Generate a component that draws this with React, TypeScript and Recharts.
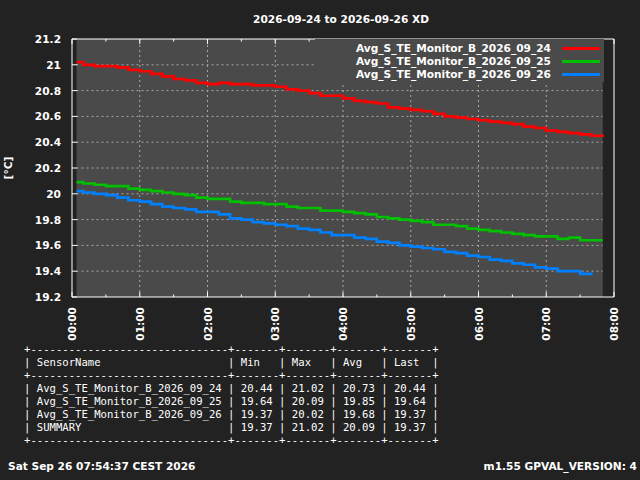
import { LineChart, Line, XAxis, YAxis, ReferenceArea, ReferenceLine, Legend } from 'recharts';

// sample times, minutes after midnight
const minutes = [
  4, 10, 20, 30, 40, 50, 60, 70, 80, 90, 100, 110, 120, 130, 140, 150,
  160, 170, 180, 190, 200, 210, 220, 230, 240, 250, 260, 270, 280, 290, 300, 310,
  320, 330, 340, 350, 360, 370, 380, 390, 400, 410, 420, 430, 440, 450, 460, 470,
];

const day24 = [
  21.02, 21.0, 20.99, 20.99, 20.98, 20.96, 20.95, 20.93, 20.91, 20.89, 20.88, 20.86, 20.85, 20.86, 20.85, 20.85,
  20.84, 20.84, 20.83, 20.81, 20.8, 20.78, 20.76, 20.76, 20.74, 20.72, 20.71, 20.7, 20.67, 20.66, 20.65, 20.64,
  20.62, 20.6, 20.59, 20.58, 20.57, 20.56, 20.55, 20.54, 20.52, 20.51, 20.49, 20.48, 20.47, 20.46, 20.45, 20.44,
];

const day25 = [
  20.09, 20.08, 20.07, 20.06, 20.06, 20.04, 20.03, 20.02, 20.01, 20.0, 19.99, 19.97, 19.96, 19.96, 19.94, 19.93,
  19.93, 19.92, 19.92, 19.9, 19.89, 19.89, 19.87, 19.87, 19.86, 19.85, 19.84, 19.82, 19.81, 19.8, 19.79, 19.78,
  19.76, 19.76, 19.75, 19.73, 19.72, 19.71, 19.7, 19.69, 19.68, 19.67, 19.67, 19.65, 19.66, 19.64, 19.64, 19.64,
];

const day26 = [
  20.02, 20.01, 20.0, 19.99, 19.97, 19.95, 19.94, 19.92, 19.9, 19.89, 19.88, 19.86, 19.86, 19.84, 19.81, 19.8,
  19.78, 19.77, 19.76, 19.75, 19.73, 19.72, 19.7, 19.68, 19.68, 19.66, 19.65, 19.63, 19.62, 19.6, 19.59, 19.58,
  19.57, 19.55, 19.54, 19.52, 19.51, 19.49, 19.48, 19.46, 19.45, 19.43, 19.42, 19.4, 19.4, 19.38, 19.37, null,
];

const seriesNames = ['Avg_S_TE_Monitor_B_2026_09_24', 'Avg_S_TE_Monitor_B_2026_09_25', 'Avg_S_TE_Monitor_B_2026_09_26'];
const seriesKeys = ['d24', 'd25', 'd26'];
const seriesColors = ['#ff0000', '#00c000', '#0080ff'];

const yTicks = [19.2, 19.4, 19.6, 19.8, 20, 20.2, 20.4, 20.6, 20.8, 21, 21.2];
const yGrid = [19.4, 19.6, 19.8, 20, 20.2, 20.4, 20.6, 20.8, 21];
const xGrid = [60, 120, 180, 240, 300, 360, 420];
const xAllTicks = [0, 30, 60, 90, 120, 150, 180, 210, 240, 270, 300, 330, 360, 390, 420, 450, 480];

const tableHeader = ['SensorName', 'Min', 'Max', 'Avg', 'Last'];
const tableRows = [
  ['Avg_S_TE_Monitor_B_2026_09_24', '20.44', '21.02', '20.73', '20.44'],
  ['Avg_S_TE_Monitor_B_2026_09_25', '19.64', '20.09', '19.85', '19.64'],
  ['Avg_S_TE_Monitor_B_2026_09_26', '19.37', '20.02', '19.68', '19.37'],
  ['SUMMARY', '19.37', '21.02', '20.09', '19.37'],
];

const data = minutes.map((m, i) => ({ m, d24: day24[i], d25: day25[i], d26: day26[i] }));

const FONT = '"DejaVu Sans", sans-serif';
const MONO = '"DejaVu Sans Mono", monospace';
const FS = 10.6;
const GRID = '#a8a8a8';

const colWidths = [29, 5, 5, 5, 5];
const border = '+' + colWidths.map(w => '-'.repeat(w + 2)).join('+') + '+';
const row = (cells: string[]) => '| ' + cells.map((c, i) => c.padEnd(colWidths[i])).join(' | ') + ' |';
const tableText = [border, row(tableHeader), border, ...tableRows.map(row), border].join('\n');

const fmtY = (v: number) => String(Number(v.toFixed(1)));
const fmtHour = (m: number) => `${String(m / 60).padStart(2, '0')}:00`;

const LeftTick = (props: any) => {
  const { x, y, payload } = props;
  return (
    <g>
      <line x1={x} x2={x + 5} y1={y} y2={y} stroke="#fff" />
      <text x={x - 11} y={y} textAnchor="end" dominantBaseline="central" fill="#fff"
        fontSize={FS} fontWeight="bold" fontFamily={FONT}>{fmtY(payload.value)}</text>
    </g>
  );
};

const RightTick = (props: any) => {
  const { x, y } = props;
  return <line x1={x - 5} x2={x} y1={y} y2={y} stroke="#fff" />;
};

const BottomTick = (props: any) => {
  const { x, y, payload } = props;
  const major = payload.value % 60 === 0;
  return (
    <g>
      <line x1={x} x2={x} y1={y} y2={y - (major ? 5 : 2.5)} stroke="#fff" />
      {major && (
        <text transform={`translate(${x},${y + 10}) rotate(-90)`} textAnchor="end" dominantBaseline="central"
          fill="#fff" fontSize={FS} fontWeight="bold" fontFamily={FONT}>{fmtHour(payload.value)}</text>
      )}
    </g>
  );
};

const TopTick = (props: any) => {
  const { x, y, payload } = props;
  const major = payload.value % 60 === 0;
  return <line x1={x} x2={x} y1={y} y2={y + (major ? 5 : 2.5)} stroke="#fff" />;
};

const LegendBox = () => (
  <div style={{ width: 289, height: 43, background: '#4a4a4a', paddingTop: 2.5, boxSizing: 'border-box' }}>
    {seriesNames.map((name, i) => (
      <div key={name} style={{ height: 13, display: 'flex', justifyContent: 'flex-end', alignItems: 'center' }}>
        <span style={{ color: '#fff', fontFamily: FONT, fontWeight: 'bold', fontSize: FS, lineHeight: '13px' }}>{name}</span>
        <span style={{ display: 'inline-block', width: 38, height: 3, background: seriesColors[i], marginLeft: 11, marginRight: 4 }} />
      </div>
    ))}
  </div>
);

const textStyle = { position: 'absolute' as const, color: '#fff', fontFamily: FONT, fontWeight: 'bold' as const, fontSize: FS, lineHeight: '13px', whiteSpace: 'nowrap' as const };

export default function App() {
  const first = minutes[0];
  const last = minutes[minutes.length - 1];
  return (
    <div style={{ position: 'absolute', left: 0, top: 0, width: 640, height: 480, background: '#222222', overflow: 'hidden' }}>
      <LineChart width={640} height={480} data={data} margin={{ top: 38, right: 25, bottom: 182, left: 71 }}>
        <XAxis dataKey="m" type="number" domain={[0, 480]} ticks={xAllTicks} height={1} tickSize={0} tickMargin={0}
          tickLine={false} axisLine={{ stroke: '#fff' }} tick={<BottomTick />} interval={0} />
        <XAxis xAxisId="top" orientation="top" dataKey="m" type="number" domain={[0, 480]} ticks={xAllTicks} height={1}
          tickSize={0} tickMargin={0} tickLine={false} axisLine={{ stroke: '#fff' }} tick={<TopTick />} interval={0} />
        <YAxis type="number" domain={[19.2, 21.2]} ticks={yTicks} width={1} tickSize={0} tickMargin={0}
          tickLine={false} axisLine={{ stroke: '#fff' }} tick={<LeftTick />} interval={0} />
        <YAxis yAxisId="right" orientation="right" type="number" domain={[19.2, 21.2]} ticks={yTicks} width={1}
          tickSize={0} tickMargin={0} tickLine={false} axisLine={{ stroke: '#fff' }} tick={<RightTick />} interval={0} />
        <ReferenceArea x1={first} x2={last} fill="#4a4a4a" fillOpacity={1} stroke="none" />
        {yGrid.map(v => (
          <ReferenceLine key={`h${v}`} segment={[{ x: first, y: v }, { x: last, y: v }]} stroke={GRID} strokeDasharray="2 3" />
        ))}
        {xGrid.map(v => (
          <ReferenceLine key={`v${v}`} x={v} stroke={GRID} strokeDasharray="2 3" />
        ))}
        {seriesKeys.map((k, i) => (
          <Line key={k} dataKey={k} name={seriesNames[i]} type="stepAfter" stroke={seriesColors[i]} strokeWidth={2.7}
            dot={false} activeDot={false} isAnimationActive={false} />
        ))}
        <Legend layout="horizontal" verticalAlign="middle" align="center"
          wrapperStyle={{ left: 315, top: 39, width: 289, height: 43 }} content={() => <LegendBox />} />
      </LineChart>

      <div style={{ ...textStyle, left: 341, top: 12.5, transform: 'translateX(-50%)' }}>2026-09-24 to 2026-09-26 XD</div>
      <div style={{ ...textStyle, left: 8, top: 168, transform: 'translate(-50%, -50%) rotate(-90deg)' }}>[°C]</div>
      <pre style={{ position: 'absolute', left: 24, top: 342.5, margin: 0, color: '#fff', fontFamily: MONO, fontSize: FS, lineHeight: '13px' }}>{tableText}</pre>
      <div style={{ ...textStyle, left: 8, top: 459.5 }}>Sat Sep 26 07:54:37 CEST 2026</div>
      <div style={{ ...textStyle, right: 3, top: 459.5 }}>m1.55 GPVAL_VERSION: 4</div>
    </div>
  );
}
